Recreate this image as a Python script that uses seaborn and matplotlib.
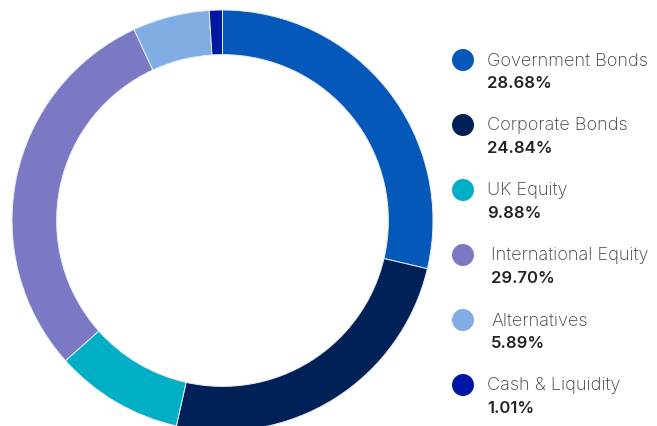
import matplotlib
matplotlib.use("Agg")
import matplotlib.pyplot as plt
import seaborn as sns

categories = ["Government Bonds", "Corporate Bonds", "UK Equity",
              "International Equity", "Alternatives", "Cash & Liquidity"]
values = [28.68, 24.84, 9.88, 29.70, 5.89, 1.01]
value_labels = ["28.68%", "24.84%", "9.88%", "29.70%", "5.89%", "1.01%"]
colors = ["#0358b9", "#002158", "#00afc6", "#7b78c4", "#80ade3", "#0017a3"]

sns.set_theme(style="white")
plt.rcParams['font.family'] = ['Inter', 'Lato', 'DejaVu Sans']

W, H = 657, 427
fig = plt.figure(figsize=(W / 100, H / 100), dpi=100)
fig.patch.set_facecolor("white")

cx, cy, R = 222.5, 221.5, 210.5
ax = fig.add_axes([(cx - R) / W, (H - cy - R) / H, 2 * R / W, 2 * R / H])
ax.pie(values, colors=colors, startangle=90, counterclock=False, radius=1.0,
       wedgeprops=dict(width=0.212, edgecolor="#e8eef8", linewidth=0.7))
ax.set_xlim(-1.0, 1.0)
ax.set_ylim(-1.0, 1.0)
ax.set_aspect("equal")
ax.axis("off")

# legend
lax = fig.add_axes([0, 0, 1, 1])
lax.set_xlim(0, W)
lax.set_ylim(H, 0)
lax.axis("off")
row_y0, row_dy = 61, 65
text_x = [487, 487, 487, 491, 491, 487]
for i, (cat, lab, col) in enumerate(zip(categories, value_labels, colors)):
    y = row_y0 + i * row_dy
    lax.scatter([463], [y], s=(22 * 0.72) ** 2, color=col, edgecolors="none")
    lax.text(text_x[i], y, cat, fontsize=13, color="#3d3d3d",
             fontweight="light", va="center", ha="left")
    lax.text(text_x[i], y + 22.5, lab, fontsize=12, color="#222222",
             fontweight="semibold", va="center", ha="left")

fig.savefig("out.png", dpi=100, facecolor="white")
